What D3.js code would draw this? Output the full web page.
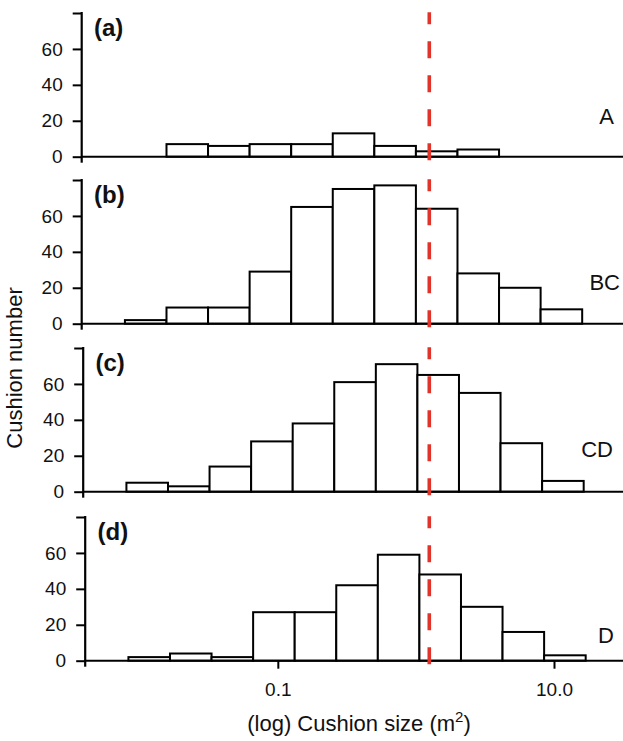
<!DOCTYPE html>
<html>
<head>
<meta charset="utf-8">
<script src="https://cdn.jsdelivr.net/npm/d3@7"></script>
<style>
  body { margin: 0; background: #fff; }
  text { font-family: "Liberation Sans", Arial, Helvetica, sans-serif; fill: #111; }
</style>
</head>
<body>
<script>
// histogram bins (m^2), doubling widths
const binEdges = [0.0078125, 0.015625, 0.03125, 0.0625, 0.125, 0.25, 0.5, 1, 2, 4, 8, 16];

const countsA  = [0, 7, 6, 7, 7, 13, 6, 3, 4, 0, 0];
const countsBC = [2, 9, 9, 29, 65, 75, 77, 64, 28, 20, 8];
const countsCD = [5, 3, 14, 28, 38, 61, 71, 65, 55, 27, 6];
const countsD  = [2, 4, 2, 27, 27, 42, 59, 48, 30, 16, 3];

const panelTags = ["(a)", "(b)", "(c)", "(d)"];
const groupNames = ["A", "BC", "CD", "D"];
const threshold = 1.25;

const yTicks = [0, 20, 40, 60, 80];
const xTicks = [0.1, 10];

const CONF = {
    width: 623,
    height: 741,
    axisX: 81.7,
    zeros: [156.7, 323.7, 491.7, 660.7],
    panelH: 143.7,
    shiftX: [0, 0, 1.5, 3.5],
    groupX: [614, 620, 613, 614],
    groupV: [18, 19, 19.5, 10],
}

const allCounts = [countsA, countsBC, countsCD, countsD];

let svg = d3.select("body").append("svg")
    .attr("width", CONF.width).attr("height", CONF.height)

let x = d3.scaleLog().domain([0.0038, 31.6]).range([CONF.axisX, CONF.width])

allCounts.forEach((counts, i) => {
    let zero = CONF.zeros[i];
    let y = d3.scaleLinear().domain([0, 80]).range([zero, zero - CONF.panelH]);
    let g = svg.append("g").attr("transform", `translate(${CONF.shiftX[i]},0)`);

    let bins = counts.map((c, j) => ({ x0: binEdges[j], x1: binEdges[j + 1], c: c }));

    g.selectAll("rect.bar")
        .data(bins)
        .join("rect")
        .classed("bar", true)
        .attr("x", d => x(d.x0))
        .attr("width", d => x(d.x1) - x(d.x0))
        .attr("y", d => y(d.c))
        .attr("height", d => y(0) - y(d.c))
        .attr("fill", "white")
        .attr("stroke", "black")
        .attr("stroke-width", 2)

    // baseline across the panel
    g.append("line")
        .attr("x1", CONF.axisX).attr("x2", CONF.width)
        .attr("y1", y(0)).attr("y2", y(0))
        .attr("stroke", "black").attr("stroke-width", 2)

    // y axis
    let yAxis = d3.axisLeft(y)
        .tickValues(yTicks)
        .tickSize(9)
        .tickPadding(10)
        .tickFormat(d => d < 80 ? d : "")
    let ga = g.append("g")
        .attr("transform", `translate(${CONF.axisX},0)`)
        .call(yAxis)
    ga.select(".domain").remove()
    ga.selectAll(".tick line").attr("stroke", "black").attr("stroke-width", 2)
    ga.selectAll(".tick text")
        .style("font-size", "19px")
        .style("font-family", '"Liberation Sans", Arial, sans-serif')
        .attr("fill", "#111")
    ga.append("line")
        .attr("x1", 0).attr("x2", 0)
        .attr("y1", y(80) - 1).attr("y2", y(0) + 6)
        .attr("stroke", "black").attr("stroke-width", 2.2)

    // x axis only on the last panel (ticks sit on the unshifted scale)
    if (i === allCounts.length - 1) {
        let xAxis = d3.axisBottom(x)
            .tickValues(xTicks)
            .tickSize(8)
            .tickPadding(14)
            .tickFormat(d3.format(".1f"))
        let gx = svg.append("g")
            .attr("transform", `translate(0,${y(0)})`)
            .call(xAxis)
        gx.select(".domain").remove()
        gx.selectAll(".tick line").attr("stroke", "black").attr("stroke-width", 2)
        gx.selectAll(".tick text")
            .style("font-size", "19px")
            .style("font-family", '"Liberation Sans", Arial, sans-serif')
            .attr("fill", "#111")
    }

    // panel tag and group name
    g.append("text")
        .attr("x", 94).attr("y", y(80) + 23)
        .style("font-size", "24px").style("font-weight", "bold")
        .text(panelTags[i])

    svg.append("text")
        .attr("x", CONF.groupX[i]).attr("y", y(CONF.groupV[i]))
        .attr("text-anchor", "end")
        .style("font-size", "22px")
        .text(groupNames[i])

    // threshold line
    svg.append("line")
        .attr("x1", x(threshold)).attr("x2", x(threshold))
        .attr("y1", y(80) - 0.7).attr("y2", y(0) + 7.5)
        .attr("stroke", "#e2332a")
        .attr("stroke-width", 3.6)
        .attr("stroke-dasharray", "17,17")
        .attr("stroke-dashoffset", 5)
})

// axis titles
let xt = svg.append("text")
    .attr("x", 359).attr("y", 731)
    .attr("text-anchor", "middle")
    .style("font-size", "22px")
xt.append("tspan").text("(log) Cushion size (m")
xt.append("tspan").attr("dy", -9).style("font-size", "15px").text("2")
xt.append("tspan").attr("dy", 9).text(")")

svg.append("text")
    .attr("transform", "translate(22,368) rotate(-90)")
    .attr("text-anchor", "middle")
    .style("font-size", "22px")
    .text("Cushion number")
</script>
</body>
</html>
